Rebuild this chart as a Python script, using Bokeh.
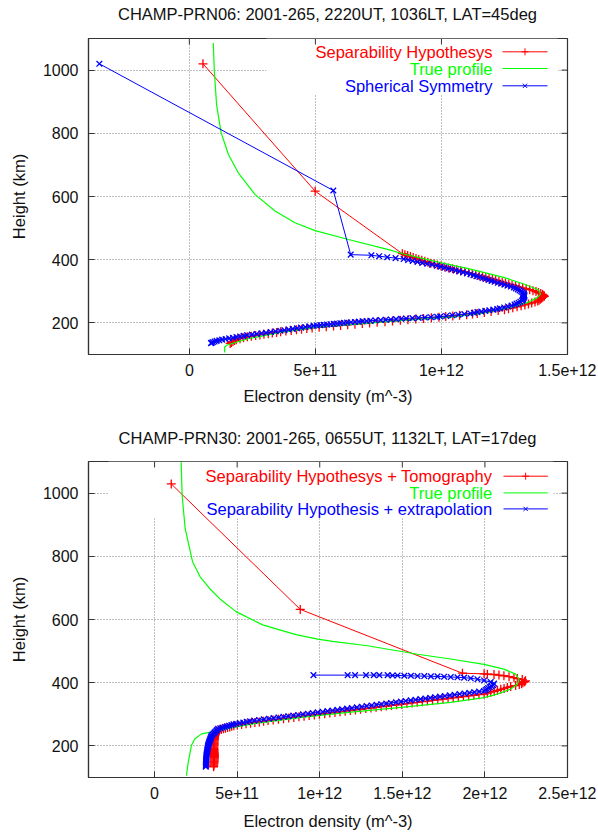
from bokeh.plotting import figure
from bokeh.models import Range1d, FixedTicker, ColumnDataSource, Div
from bokeh.layouts import column
from bokeh.embed import file_html
from bokeh.resources import INLINE
from bokeh.core.properties import value

FONT = "Liberation Sans"
RED, GREEN, BLUE = "#ff0000", "#00ff00", "#0000ff"
UNIT = 1e11  # densities below are given in units of 1e11 m^-3

# ---------------- common ----------------
y_ticks = [200, 400, 600, 800, 1000]
y_tick_labels = ["200", "400", "600", "800", "1000"]
x_label = "Electron density (m^-3)"
y_label = "Height (km)"

# ---------------- top panel ----------------
top_title = "CHAMP-PRN06: 2001-265, 2220UT, 1036LT, LAT=45deg"
top_x_ticks = [0, 5e11, 1e12, 1.5e12]
top_x_tick_labels = ["0", "5e+11", "1e+12", "1.5e+12"]
top_legend = ["Separability Hypothesys", "True profile", "Spherical Symmetry"]

top_sep_h = [1020, 617,
             419, 416, 413, 410, 407, 404, 401, 398, 395, 392, 389, 386, 383, 380, 377, 374, 371, 368, 365, 362,
             359, 356, 353, 350, 347, 344, 341, 338, 335, 332, 329, 326, 323, 320, 317, 314, 311, 308, 305, 302,
             299, 296, 293, 290, 287, 284,
             281, 278, 275, 272, 269, 266, 263, 260, 257, 254, 251, 248, 245, 242, 239, 236, 233, 230, 228, 226,
             224, 222, 220, 218, 216, 214, 212, 210, 208, 206, 204, 202, 200, 198, 196, 194, 192, 190, 188, 186,
             184, 182, 180, 178, 176, 174, 172, 170, 168, 166, 164, 162, 160, 158, 156, 153, 150, 147, 144, 141,
             138, 135]
top_sep_ne = [0.54, 4.99,
              8.45, 8.55, 8.66, 8.77, 8.88, 8.99, 9.10, 9.22, 9.34, 9.46, 9.58, 9.71, 9.84, 9.98, 10.13, 10.28,
              10.44, 10.60, 10.76, 10.92,
              11.08, 11.22, 11.36, 11.50, 11.63, 11.76, 11.89, 12.02, 12.15, 12.28, 12.41, 12.54, 12.67, 12.80,
              12.94, 13.08, 13.22, 13.36, 13.50, 13.63,
              13.75, 13.85, 13.94, 14.01, 14.06, 14.08,
              14.02, 13.97, 13.92, 13.87, 13.82, 13.71, 13.58, 13.45, 13.31, 13.16, 13.00, 12.83, 12.66, 12.50,
              12.25, 11.97, 11.70, 11.42, 11.23, 11.00,
              10.72, 10.45, 10.17, 9.90, 9.60, 9.29, 8.98, 8.67, 8.37, 8.06, 7.76, 7.45, 7.15, 6.86, 6.57, 6.28,
              6.00, 5.72, 5.43, 5.15,
              4.87, 4.66, 4.45, 4.25, 4.04, 3.83, 3.62, 3.46, 3.29, 3.13, 2.96, 2.80, 2.63, 2.46, 2.30, 2.15,
              2.01, 1.86, 1.79, 1.73,
              1.67, 1.62]

top_true_h = [1086, 997, 891, 802, 733, 675, 606, 554, 517, 492, 464, 432, 418, 391, 370, 344, 323, 304,
              291, 280, 264, 249, 233, 219, 212, 204, 185, 170, 149, 130, 124, 106]
top_true_ne = [0.95, 0.99, 1.08, 1.26, 1.55, 1.94, 2.61, 3.40, 4.19, 4.99, 6.31, 7.90, 8.50, 9.96, 11.15,
               12.47, 13.27, 13.86, 13.93, 13.80, 13.40, 12.74, 11.81, 10.49, 9.17, 7.84, 4.93, 3.61, 2.29,
               1.50, 1.40, 1.40]

top_sph_h = [1020, 619, 416,
             414, 411, 408, 405, 402, 399, 396, 393, 390, 387, 384, 381, 378, 375, 372, 369, 366, 363, 360,
             357, 354, 351, 348, 345, 342, 339, 336, 333, 330, 327, 324, 321, 318, 315, 312, 309, 306, 303,
             300, 297, 294, 291, 288, 285,
             282, 279, 276, 273, 270, 267, 264, 261, 258, 255, 252, 249, 246, 244, 242, 240, 238, 236, 234,
             232, 230, 228, 226, 224, 222, 220, 219, 218, 217, 216, 215, 214, 213, 212, 211, 210, 209, 208,
             207, 206, 205, 204, 203, 202, 201, 200, 199, 198, 197, 196, 195, 194, 193, 192, 191, 189, 187,
             185, 183, 181, 179, 177, 175, 173, 171, 169, 167, 165, 163, 161, 159, 157, 155, 153, 151, 149,
             147, 145, 143, 141, 139, 137, 136]
top_sph_ne = [-3.57, 5.71, 6.40,
              7.22, 7.53, 7.85, 8.18, 8.50, 8.68, 8.86, 9.05, 9.24, 9.44, 9.63, 9.83, 9.97, 10.12, 10.27,
              10.42, 10.57, 10.71, 10.86,
              11.01, 11.15, 11.27, 11.39, 11.51, 11.63, 11.75, 11.87, 11.99, 12.11, 12.24, 12.37, 12.50,
              12.62, 12.75, 12.87, 12.95, 13.03, 13.10,
              13.16, 13.21, 13.25, 13.27, 13.29, 13.29,
              13.28, 13.26, 13.24, 13.22, 13.20, 13.13, 13.06, 12.98, 12.90, 12.78, 12.64, 12.49, 12.32,
              12.21, 12.06, 11.90, 11.74, 11.58, 11.43,
              11.29, 11.15, 10.91, 10.67, 10.43, 10.19, 9.95, 9.83, 9.58, 9.34, 9.09, 8.85, 8.60, 8.40,
              8.20, 7.99, 7.79, 7.59, 7.38,
              7.18, 7.03, 6.87, 6.72, 6.57, 6.41, 6.26, 6.13, 5.99, 5.86, 5.73, 5.60, 5.46, 5.33, 5.20,
              5.06, 4.93, 4.76, 4.60,
              4.43, 4.27, 4.10, 3.94, 3.77, 3.61, 3.42, 3.23, 3.04, 2.86, 2.67, 2.48, 2.29, 2.15, 2.01,
              1.87, 1.73, 1.58, 1.44,
              1.30, 1.19, 1.08, 1.00, 0.93, 0.88, 0.86]

# ---------------- bottom panel ----------------
bot_title = "CHAMP-PRN30: 2001-265, 0655UT, 1132LT, LAT=17deg"
bot_x_ticks = [0, 5e11, 1e12, 1.5e12, 2e12, 2.5e12]
bot_x_tick_labels = ["0", "5e+11", "1e+12", "1.5e+12", "2e+12", "2.5e+12"]
bot_legend = ["Separability Hypothesys + Tomography", "True profile",
              "Separability Hypothesis + extrapolation"]

bot_tomo_h = [1029, 632, 430,
              428, 427, 426, 424, 422, 419, 416, 413, 410, 406,
              403, 400, 397, 394, 391, 388, 385, 382, 379, 376, 373, 370, 367, 364,
              362, 360, 358, 356, 354, 352, 350, 348, 346, 344, 342, 340, 338, 336, 334, 332, 330, 328,
              326, 324, 322, 320, 318, 316, 314, 312, 310, 308, 306, 304, 302, 300, 298, 296, 294, 292,
              290, 288, 286, 284, 282, 280,
              278, 276, 274, 272, 270, 268, 266, 264, 262, 260, 258, 256, 254, 252, 250, 248,
              245, 242, 239, 236, 233, 230,
              227, 224, 221, 218, 215, 212, 209, 206, 203, 200, 197, 194, 191, 188, 185, 182, 179, 176,
              173, 170, 167, 164, 161, 158, 155, 152, 149, 146, 143, 140, 137, 134]
bot_tomo_ne = [1.01, 8.82, 18.64,
               19.95, 20.15, 20.55, 20.85, 21.15, 21.46, 21.76, 21.96, 22.26, 22.46,
               22.40, 22.30, 22.22, 22.08, 21.86, 21.56, 21.36, 21.16, 20.96, 20.76, 20.56, 20.35, 20.15,
               19.95,
               19.64, 19.33, 19.02, 18.70, 18.39, 18.08, 17.77, 17.46, 17.15, 16.83, 16.52, 16.21, 15.90,
               15.59, 15.28, 14.96, 14.65, 14.34,
               14.03, 13.72, 13.41, 13.10, 12.79, 12.47, 12.16, 11.85, 11.54, 11.23, 10.92, 10.61, 10.30,
               9.98, 9.67, 9.36, 9.05, 8.74,
               8.43, 8.12, 7.81, 7.50, 7.18, 6.87,
               6.60, 6.34, 6.07, 5.81, 5.54, 5.27, 5.01, 4.80, 4.67, 4.55, 4.42, 4.29, 4.17, 4.04, 3.92,
               3.84,
               3.76, 3.71, 3.68, 3.66, 3.65, 3.64,
               3.63, 3.62, 3.62, 3.61, 3.61, 3.60, 3.60, 3.60, 3.60, 3.59, 3.59, 3.59, 3.59, 3.60, 3.60,
               3.60, 3.61, 3.61,
               3.62, 3.62, 3.62, 3.62, 3.62, 3.61, 3.61, 3.60, 3.60, 3.59, 3.59, 3.58, 3.58, 3.57]

bot_true_h = [1098, 993, 888, 783, 736, 699, 663, 625, 583, 552, 538, 531, 517, 490, 475, 458, 443, 427,
              411, 395, 380, 364, 353, 338, 322, 307, 290, 269, 259, 248, 238, 222, 201, 149, 106]
bot_true_ne = [1.61, 1.67, 1.85, 2.30, 2.75, 3.32, 4.00, 4.93, 6.54, 8.56, 9.88, 10.77, 12.90, 15.92,
               17.93, 19.95, 21.15, 21.86, 22.06, 21.96, 21.56, 20.75, 19.95, 17.93, 14.92, 11.90, 8.88,
               5.86, 4.85, 3.85, 2.84, 2.43, 2.23, 2.04, 1.93]

bot_extr_h = [424, 424, 424, 424, 424, 424, 424, 423, 423, 422, 422, 421, 421, 420, 420, 419, 418, 417,
              416, 414, 411, 407, 402, 397, 392, 389, 386, 383, 380, 377,
              374, 372, 370, 368, 366, 364, 362, 360, 358, 356, 354, 352, 350, 348, 346, 344, 342, 340,
              338, 336, 334, 332, 330, 328, 326, 324, 322, 320, 318, 316, 314, 312, 310, 308, 306, 304,
              302, 300, 298, 296, 294, 292, 290, 288, 286, 284, 282, 280, 278,
              276, 274, 272, 270, 268, 266, 264, 262, 260, 258, 256, 254,
              251, 248, 245, 242, 239, 236, 233, 230, 227, 224, 221, 218, 215, 212, 209, 206, 203, 200,
              197, 194, 191, 188, 185, 182, 179, 176, 173, 170, 167, 164, 161, 158, 155, 152, 149, 146,
              143, 140, 137, 134]
bot_extr_ne = [9.62, 11.69, 12.14, 12.80, 13.27, 13.61, 14.11, 14.41, 14.71, 15.12, 15.52, 15.92, 16.33,
               16.73, 17.13, 17.53, 17.93, 18.34, 18.74, 19.14, 19.55, 19.95, 20.35, 20.55, 20.50, 20.40,
               20.30, 20.20, 20.12, 20.04,
               19.95, 19.65, 19.36, 19.06, 18.77, 18.47, 18.17, 17.88, 17.58, 17.28, 16.99, 16.69, 16.40,
               16.10, 15.80, 15.51, 15.21, 14.92,
               14.62, 14.32, 14.03, 13.73, 13.44, 13.14, 12.84, 12.55, 12.25, 11.95, 11.66, 11.36, 11.07,
               10.77, 10.47, 10.18, 9.88, 9.58,
               9.29, 8.99, 8.70, 8.40, 8.10, 7.81, 7.51, 7.21, 6.92, 6.62, 6.33, 6.03, 5.78,
               5.58, 5.37, 5.16, 4.95, 4.78, 4.65, 4.51, 4.38, 4.25, 4.11, 3.98, 3.85,
               3.79, 3.74, 3.68, 3.63, 3.57, 3.51, 3.46, 3.43, 3.41, 3.39, 3.37, 3.35, 3.33, 3.31, 3.29,
               3.27, 3.25, 3.24,
               3.23, 3.22, 3.21, 3.20, 3.19, 3.18, 3.17, 3.16, 3.15, 3.14, 3.14, 3.14, 3.13, 3.13, 3.13,
               3.12, 3.12, 3.12,
               3.11, 3.11, 3.11, 3.10]

FRAME_W, FRAME_H = 479, 316
BORDER_L, BORDER_R = 88, 29
Y_RANGE = (100, 1100)
TICK_PX = 6
TEXT_PX = "16.5px"


def scale(vals):
    return [v * UNIT for v in vals]


def title_div(text, pad_top):
    html = ('<div style="margin:0 0 0 %dpx; width:%dpx; padding-top:%dpx; line-height:20px; '
            'text-align:center; white-space:nowrap; font-family:\'%s\'; font-size:%s; color:#111111;">'
            '%s</div>' % (BORDER_L, FRAME_W, pad_top, FONT, TEXT_PX, text))
    return Div(text=html, width=BORDER_L + FRAME_W + BORDER_R, height=pad_top + 20, margin=0)


def build(x_range, x_ticks, x_tick_labels, legend_labels, sep, true, third,
          border_top, border_bottom, box_px, legend_px, xlab_standoff):
    p = figure(frame_width=FRAME_W, frame_height=FRAME_H, title=None,
               x_range=Range1d(*x_range), y_range=Range1d(*Y_RANGE),
               output_backend="svg", toolbar_location=None,
               min_border_left=BORDER_L, min_border_right=BORDER_R,
               min_border_top=border_top, min_border_bottom=border_bottom,
               x_axis_label=x_label, y_axis_label=y_label, margin=0)
    p.outline_line_color = "#333333"
    p.outline_line_width = 1.2
    p.background_fill_color = "white"

    xax = p.below[0]
    yax = p.left[0]
    xt = FixedTicker(ticks=x_ticks)
    yt = FixedTicker(ticks=y_ticks)
    for ax, tk in ((xax, xt), (yax, yt)):
        ax.ticker = tk
        ax.major_tick_in = TICK_PX
        ax.major_tick_out = 0
        ax.minor_tick_in = 0
        ax.minor_tick_out = 0
        ax.axis_line_color = "#333333"
        ax.axis_line_width = 1.2
        ax.major_tick_line_color = "#333333"
        ax.major_label_text_font = FONT
        ax.major_label_text_font_size = "16px"
        ax.major_label_text_color = "#111111"
        ax.axis_label_text_font = FONT
        ax.axis_label_text_font_size = TEXT_PX
        ax.axis_label_text_font_style = "normal"
        ax.axis_label_text_color = "#111111"
    xax.major_label_overrides = {float(t): s for t, s in zip(x_ticks, x_tick_labels)}
    yax.major_label_overrides = {float(t): s for t, s in zip(y_ticks, y_tick_labels)}
    xax.major_label_standoff = 9
    xax.axis_label_standoff = xlab_standoff
    yax.major_label_standoff = 10
    yax.axis_label_standoff = 12

    p.xgrid.ticker = xt
    p.ygrid.ticker = yt
    for g in (p.xgrid[0], p.ygrid[0]):
        g.grid_line_color = "#808080"
        g.grid_line_dash = "1 2"
        g.grid_line_width = 1

    x0, x1 = x_range
    y0, y1 = Y_RANGE

    def fx(px):
        return x0 + px / FRAME_W * (x1 - x0)

    def fy(py):
        return y1 - py / FRAME_H * (y1 - y0)

    # key box (hides grid behind the key, as in gnuplot)
    bl, br, bb = box_px
    p.quad(left=[fx(bl)], right=[fx(br)], top=[y1], bottom=[fy(bb)],
           fill_color="white", line_color=None)

    # mirrored ticks on the top and right borders
    dy = TICK_PX / FRAME_H * (y1 - y0)
    dx = TICK_PX / FRAME_W * (x1 - x0)
    p.segment(x0=x_ticks, x1=x_ticks, y0=[y1] * len(x_ticks), y1=[y1 - dy] * len(x_ticks),
              line_color="#333333", line_width=1)
    p.segment(x0=[x1] * len(y_ticks), x1=[x1 - dx] * len(y_ticks), y0=y_ticks, y1=y_ticks,
              line_color="#333333", line_width=1)

    sep_h, sep_ne = sep
    true_h, true_ne = true
    th_h, th_ne = third
    p.line(scale(sep_ne), sep_h, line_color=RED, line_width=1)
    p.scatter(scale(sep_ne), sep_h, marker="cross", size=9, line_color=RED, line_width=1.3)
    p.line(scale(true_ne), true_h, line_color=GREEN, line_width=1.2)
    p.line(scale(th_ne), th_h, line_color=BLUE, line_width=1)
    p.scatter(scale(th_ne), th_h, marker="x", size=8, line_color=BLUE, line_width=1.3)

    # key
    tx, sx0, sx1, rows = legend_px
    colors = [RED, GREEN, BLUE]
    src = ColumnDataSource(dict(x=[fx(tx)] * 3, y=[fy(r) for r in rows], text=legend_labels, c=colors))
    p.text(x="x", y="y", text="text", text_color="c", source=src, text_align="right",
           text_baseline="middle", text_font=value(FONT), text_font_size=TEXT_PX)
    p.segment(x0=[fx(sx0)] * 3, x1=[fx(sx1)] * 3, y0=[fy(r) for r in rows], y1=[fy(r) for r in rows],
              line_color=colors, line_width=1)
    mx = fx((sx0 + sx1) / 2)
    p.scatter([mx], [fy(rows[0])], marker="cross", size=7, line_color=RED)
    p.scatter([mx], [fy(rows[2])], marker="x", size=6, line_color=BLUE)
    return p


d1 = title_div(top_title, 4)
p1 = build((-4e11, 1.5e12), top_x_ticks, top_x_tick_labels, top_legend,
           (top_sep_h, top_sep_ne), (top_true_h, top_true_ne), (top_sph_h, top_sph_ne),
           14, 54, (178, 469, 56), (404, 414, 459, (13.3, 30.0, 47.3)), 8)
d2 = title_div(bot_title, 20)
p2 = build((-4e11, 2.5e12), bot_x_ticks, bot_x_tick_labels, bot_legend,
           (bot_tomo_h, bot_tomo_ne), (bot_true_h, bot_true_ne), (bot_extr_h, bot_extr_ne),
           13, 55, (20, 465, 56.7), (403.7, 415, 459.3, (14.7, 31.4, 47.4)), 10)

layout = column(d1, p1, d2, p2, spacing=0, margin=0)
open("out.html", "w").write(file_html(layout, INLINE))
